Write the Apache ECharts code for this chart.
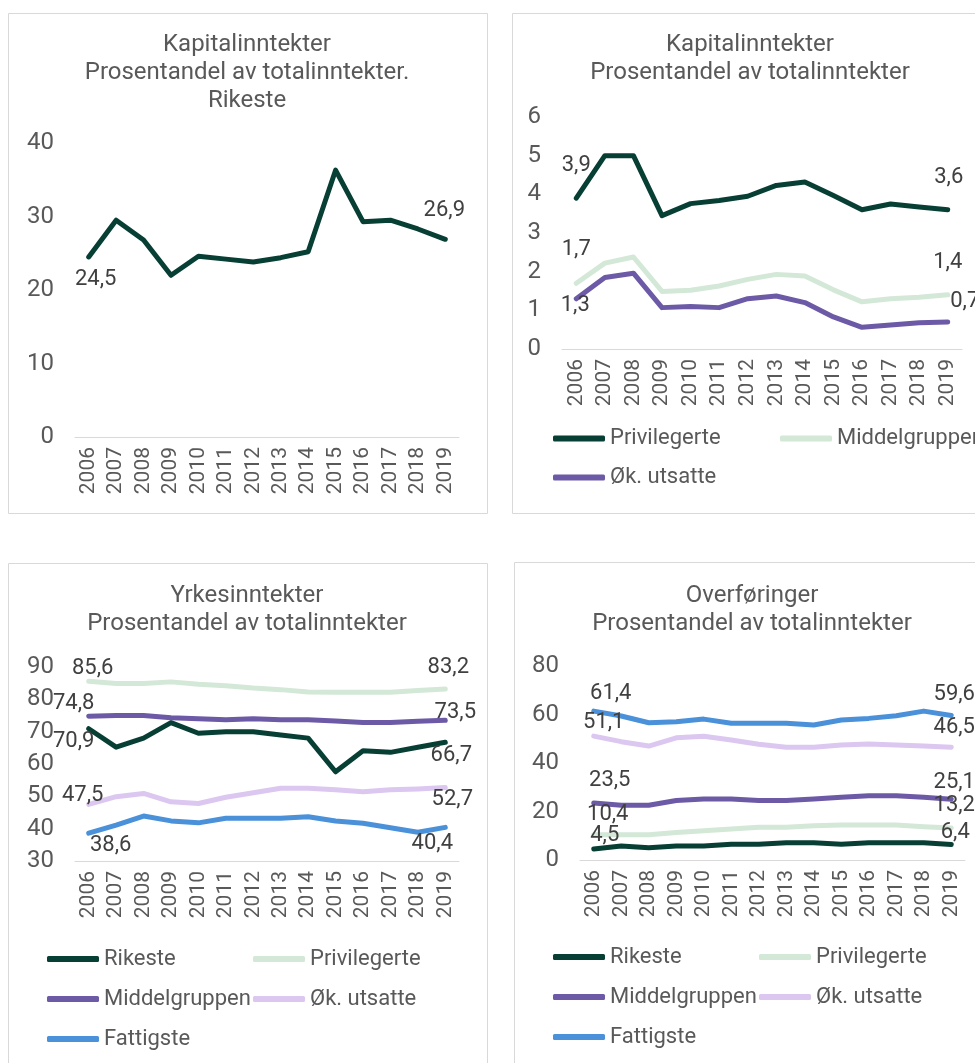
<!DOCTYPE html>
<html><head><meta charset="utf-8">
<script src="https://cdn.jsdelivr.net/npm/echarts@6/dist/echarts.min.js"></script>
<style>html,body{margin:0;padding:0;background:#fff}#c{width:975px;height:1063px}</style>
</head><body><div id="c"></div><script>
// ---------- data ----------
const years = ['2006','2007','2008','2009','2010','2011','2012','2013','2014','2015','2016','2017','2018','2019'];

// Panel 1: Kapitalinntekter, Rikeste
const kapRikeste = [24.5, 29.5, 26.8, 22.0, 24.6, 24.2, 23.8, 24.4, 25.2, 36.3, 29.3, 29.5, 28.3, 26.9];

// Panel 2: Kapitalinntekter
const kapPrivilegerte = [3.9, 5.0, 5.0, 3.45, 3.76, 3.84, 3.95, 4.23, 4.32, 3.97, 3.6, 3.75, 3.67, 3.6];
const kapMiddel = [1.7, 2.22, 2.38, 1.49, 1.52, 1.63, 1.8, 1.93, 1.89, 1.53, 1.22, 1.3, 1.34, 1.4];
const kapUtsatte = [1.3, 1.85, 1.96, 1.07, 1.1, 1.07, 1.3, 1.37, 1.2, 0.83, 0.56, 0.62, 0.68, 0.7];

// Panel 3: Yrkesinntekter
const yrkRikeste = [70.9, 65.2, 68.0, 72.8, 69.5, 70.0, 70.0, 69.0, 68.0, 57.6, 64.1, 63.6, 65.2, 66.7];
const yrkPriv = [85.6, 84.9, 84.9, 85.4, 84.7, 84.2, 83.5, 83.0, 82.3, 82.2, 82.2, 82.2, 82.7, 83.2];
const yrkMiddel = [74.8, 75.0, 75.0, 74.3, 74.0, 73.7, 74.0, 73.7, 73.7, 73.3, 72.8, 72.8, 73.2, 73.5];
const yrkUtsatte = [47.5, 49.9, 50.9, 48.3, 47.8, 49.7, 51.1, 52.5, 52.5, 52.0, 51.4, 52.0, 52.3, 52.7];
const yrkFattig = [38.6, 41.1, 43.9, 42.4, 41.8, 43.2, 43.2, 43.2, 43.7, 42.4, 41.7, 40.3, 38.9, 40.4];

// Panel 4: Overføringer
const ovfRikeste = [4.5, 5.8, 5.1, 5.8, 5.8, 6.5, 6.5, 7.1, 7.1, 6.5, 7.1, 7.1, 7.1, 6.4];
const ovfPriv = [10.4, 10.4, 10.4, 11.3, 12.1, 12.8, 13.5, 13.5, 14.1, 14.4, 14.4, 14.4, 13.7, 13.2];
const ovfMiddel = [23.5, 22.6, 22.6, 24.5, 25.2, 25.2, 24.5, 24.5, 25.2, 25.9, 26.5, 26.5, 25.9, 25.1];
const ovfUtsatte = [51.1, 48.8, 47.0, 50.4, 51.0, 49.5, 47.7, 46.5, 46.5, 47.4, 47.8, 47.4, 47.0, 46.5];
const ovfFattig = [61.4, 59.4, 56.6, 57.0, 58.1, 56.4, 56.4, 56.4, 55.7, 57.7, 58.4, 59.5, 61.4, 59.6];

const titles = [
  'Kapitalinntekter\nProsentandel av totalinntekter.\nRikeste',
  'Kapitalinntekter\nProsentandel av totalinntekter',
  'Yrkesinntekter\nProsentandel av totalinntekter',
  'Overføringer\nProsentandel av totalinntekter'
];

// ---------- styles ----------
const FONT = 'Roboto, "Liberation Sans", sans-serif';
const TXT = '#595959';
const C = {
  dark: '#073f35',
  lightGreen: '#d4e8d8',
  purple: '#6c5aa6',
  lightPurple: '#dcc7f1',
  blue: '#4a91da'
};

function fmt(v) { return v.toFixed(1).replace('.', ','); }

function lbl(off) {
  return { show: true, position: 'inside', offset: off };
}
function withLabels(vals, firstOff, lastOff) {
  return vals.map((v, i) => {
    if (i === 0 && firstOff) return { value: v, label: lbl(firstOff) };
    if (i === vals.length - 1 && lastOff) return { value: v, label: lbl(lastOff) };
    return v;
  });
}
function line(name, idx, vals, color, firstOff, lastOff) {
  return {
    type: 'line', name: name, xAxisIndex: idx, yAxisIndex: idx,
    data: withLabels(vals, firstOff, lastOff),
    symbol: 'circle', symbolSize: 1, showSymbol: true,
    itemStyle: { color: color },
    lineStyle: { color: color, width: 5, cap: 'round', join: 'round' },
    label: { show: false, formatter: p => fmt(p.value), fontSize: 22, color: '#404040', fontFamily: FONT },
    emphasis: { disabled: true },
    z: 2
  };
}

const grids = [
  { left: 75, top: 143, width: 384, height: 294 },
  { left: 562, top: 117, width: 400, height: 232 },
  { left: 75, top: 667, width: 384, height: 194 },
  { left: 580, top: 666, width: 385, height: 194 }
];
const yRanges = [[0, 40, 10], [0, 6, 1], [30, 90, 10], [0, 80, 20]];

const xAxes = grids.map((g, i) => ({
  type: 'category', gridIndex: i, data: years, boundaryGap: true,
  axisLine: { show: true, lineStyle: { color: '#d9d9d9', width: 1 } },
  axisTick: { show: false },
  axisLabel: { rotate: 90, margin: 10, fontSize: 21, color: TXT, fontFamily: FONT, interval: 0 },
  splitLine: { show: false }
}));
const yAxes = yRanges.map((r, i) => ({
  type: 'value', gridIndex: i, min: r[0], max: r[1], interval: r[2],
  axisLine: { show: false }, axisTick: { show: false },
  splitLine: { show: false },
  axisLabel: { margin: 21, fontSize: 24, color: TXT, fontFamily: FONT }
}));

const titleCenters = [[247, 31], [750, 31], [247, 582], [752, 582]];
const titleOpts = titles.map((t, i) => ({
  text: t, left: titleCenters[i][0], top: titleCenters[i][1], textAlign: 'center', padding: 0,
  textStyle: { fontSize: 24, fontWeight: 'normal', color: TXT, fontFamily: FONT, lineHeight: 28 }
}));

function legendItem(name, color) {
  return { name: name, itemStyle: { color: color } };
}
const legendBase = {
  orient: 'horizontal', icon: 'roundRect', itemWidth: 52, itemHeight: 6, itemGap: 0, padding: 0,
  selectedMode: false
};
const legends = [
  Object.assign({}, legendBase, {
    left: 553, top: 419, width: 460,
    textStyle: { fontSize: 22, color: TXT, fontFamily: FONT, width: 170, lineHeight: 39, overflow: 'none' },
    data: [legendItem('Privilegerte', C.dark), legendItem('Middelgruppen', C.lightGreen), legendItem('Øk. utsatte', C.purple)]
  }),
  Object.assign({}, legendBase, {
    left: 47, top: 939, width: 420,
    textStyle: { fontSize: 22, color: TXT, fontFamily: FONT, width: 149, lineHeight: 40, overflow: 'none' },
    data: [legendItem('Rikeste', C.dark), legendItem('Privilegerte', C.lightGreen), legendItem('Middelgruppen', C.purple), legendItem('Øk. utsatte', C.lightPurple), legendItem('Fattigste', C.blue)]
  }),
  Object.assign({}, legendBase, {
    left: 553, top: 937, width: 420,
    textStyle: { fontSize: 22, color: TXT, fontFamily: FONT, width: 149, lineHeight: 40, overflow: 'none' },
    data: [legendItem('Rikeste', C.dark), legendItem('Privilegerte', C.lightGreen), legendItem('Middelgruppen', C.purple), legendItem('Øk. utsatte', C.lightPurple), legendItem('Fattigste', C.blue)]
  })
];

const series = [
  line('Rikeste', 0, kapRikeste, C.dark, [7, 23], [-1, -29]),

  line('Privilegerte', 1, kapPrivilegerte, C.dark, [0, -33], [1, -32]),
  line('Middelgruppen', 1, kapMiddel, C.lightGreen, [0, -34], [0, -32]),
  line('Øk. utsatte', 1, kapUtsatte, C.purple, [-1, 7], [17, -20]),

  line('Rikeste', 2, yrkRikeste, C.dark, [-15, 13], [6, 13]),
  line('Privilegerte', 2, yrkPriv, C.lightGreen, [4, -13], [3, -21]),
  line('Middelgruppen', 2, yrkMiddel, C.purple, [-15, -13], [10, -8]),
  line('Øk. utsatte', 2, yrkUtsatte, C.lightPurple, [-6, -9], [7, 12]),
  line('Fattigste', 2, yrkFattig, C.blue, [22, 12], [-13, 16]),

  line('Rikeste', 3, ovfRikeste, C.dark, [11, -14], [4, -12]),
  line('Privilegerte', 3, ovfPriv, C.lightGreen, [14, -20], [3, -22]),
  line('Middelgruppen', 3, ovfMiddel, C.purple, [16, -23], [3, -17]),
  line('Øk. utsatte', 3, ovfUtsatte, C.lightPurple, [10, -14], [3, -20]),
  line('Fattigste', 3, ovfFattig, C.blue, [17, -18], [3, -21])
];

const borders = [
  { x: 8.5, y: 13.5, w: 479, h: 500 },
  { x: 512.5, y: 13.5, w: 500, h: 500 },
  { x: 8.5, y: 563.5, w: 479, h: 520 },
  { x: 514.5, y: 562.5, w: 500, h: 520 }
].map(b => ({
  type: 'rect', shape: { x: b.x, y: b.y, width: b.w, height: b.h },
  style: { fill: '#fff', stroke: '#d9d9d9', lineWidth: 1 }, z: -10, silent: true
}));

const chart = echarts.init(document.getElementById('c'), null, { renderer: 'canvas' });
chart.setOption({
  animation: false,
  backgroundColor: '#ffffff',
  graphic: borders,
  title: titleOpts,
  legend: legends,
  grid: grids,
  xAxis: xAxes,
  yAxis: yAxes,
  series: series
});
</script></body></html>
